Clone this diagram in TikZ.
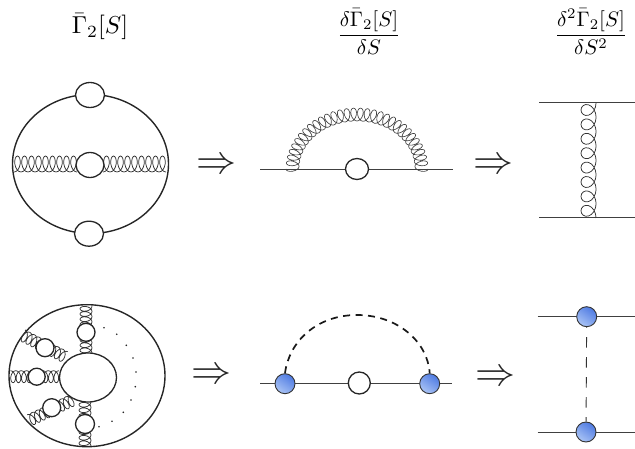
\documentclass[tikz,border=0pt]{standalone}
\usepackage{amsmath}
\usepackage{tikz}
\usetikzlibrary{positioning,shapes.geometric}
\definecolor{blobblue}{RGB}{78,122,226}
\definecolor{blobpale}{RGB}{170,196,245}
\tikzset{
    prop/.style={draw=black!85, line width=1.4pt},
    thinprop/.style={draw=black!75, line width=1.1pt},
    blob/.style={ellipse, draw=black!85, line width=1.3pt, fill=white, inner sep=0pt},
    vertex/.style={ellipse, draw=black!80, line width=0.9pt, inner sep=0pt, minimum width=20pt, minimum height=20pt,
        left color=blobblue, right color=blobpale, shading angle=-35},
    impl/.style={scale=4, inner sep=0pt, text=black!85},
    titlelab/.style={inner sep=0pt},
    % gluon = {loops}{pitch}{half height}{loop width}
    pics/gluon/.style n args={4}{code={
        \draw[black!80, line width=0.75pt] plot[smooth, domain=0:360*#1, samples=#1*16+1]
            ({#2*(\x/360)+#4*sin(\x)}, {#3*cos(\x)});
    }}
}

\begin{document}
\begin{tikzpicture}[x=1pt, y=-1pt]
    \useasboundingbox (0,0) rectangle (635,449);

    % =========================================================================
    % TITLES
    % =========================================================================
    \node[titlelab, scale=2.45] (titlea) at (100, 27) {$\bar{\Gamma}_2[S]$};
    \node[titlelab, scale=2.1] (titleb) at (369, 32) {$\dfrac{\delta\bar{\Gamma}_2[S]}{\delta S}$};
    \node[titlelab, scale=2.1] (titlec) at (591, 32) {$\dfrac{\delta^2\bar{\Gamma}_2[S]}{\delta S^2}$};

    % =========================================================================
    % ROW 1, LEFT: Closed diagram
    % =========================================================================
    \node[ellipse, prop, inner sep=0pt, minimum width=156pt, minimum height=139pt] (ringa) at (90.5, 164) {};
    \coordinate (gla) at (14, 164);
    \coordinate (glc) at (103, 164);
    \pic at (gla) {gluon={9}{7}{8}{4.4}};
    \pic at (glc) {gluon={9}{7}{8}{4.4}};
    \node[blob, minimum width=29pt, minimum height=25pt] (blobtop) at (90, 95) {};
    \node[blob, minimum width=28pt, minimum height=25pt] (blobmid) at (90, 165) {};
    \node[blob, minimum width=29pt, minimum height=25pt] (blobbot) at (89, 233.7) {};

    % =========================================================================
    % ROW 1, MIDDLE: Self energy
    % =========================================================================
    \coordinate (sea) at (260, 169.7);
    \coordinate (seb) at (453, 169.7);
    \draw[thinprop] (sea) -- (seb);
    % Gluon bent around a half ellipse
    \draw[black!75, line width=0.65pt] plot[smooth, domain=0:11160, samples=497]
        ({357+(71-6.5*(1-cos(\x)))*cos(180-\x/62+3.8*sin(\x))},
         {169-(61-6.5*(1-cos(\x)))*sin(180-\x/62+3.8*sin(\x))});
    \node[blob, minimum width=23pt, minimum height=21pt] (blobse) at (357, 169) {};

    % =========================================================================
    % ROW 1, RIGHT: Exchange
    % =========================================================================
    \coordinate (xa) at (539, 102.7);
    \coordinate (xb) at (635, 102.7);
    \coordinate (xc) at (539, 217.6);
    \coordinate (xd) at (635, 217.6);
    \coordinate (xdn) at (588.5, 218);
    \draw[thinprop] (xa) -- (xb);
    \draw[thinprop] (xc) -- (xd);
    \pic[rotate=90] at (xdn) {gluon={8}{14.4}{7.5}{8.8}};

    % =========================================================================
    % ROW 2, LEFT: Ring diagram
    % =========================================================================
    \node[ellipse, prop, inner sep=0pt, minimum width=156pt, minimum height=142pt] (ringb) at (87, 375.7) {};

    % Spokes
    \foreach \name/\px/\py/\ang/\n/\pitch in {sa/86/353/90/9/5.2, sb/65/357/153/9/5.3, sc/59/376.7/180/9/5.4, sd/73/400/205/9/5.3, se/85/446/90/8/5.5} {
        \coordinate (\name) at (\px, \py);
        \pic[rotate=\ang] at (\name) {gluon={\n}{\pitch}{6}{3.6}};
    }
    \node[blob, minimum width=57pt, minimum height=49pt] (core) at (88, 377.5) {};
    \foreach \name/\px/\py/\r in {ba/86/332.3/18, bb/45/347.7/18, bc/36.7/376.7/17, bd/51.7/407.7/18, be/85/424/19} {
        \node[blob, minimum width=\r pt, minimum height=\r pt] (\name) at (\px, \py) {};
    }

    % Dots
    \foreach \px/\py/\k in {104/327.7/1, 116.7/334.3/2, 126.3/345.3/3, 133/358/4, 136/372/5, 135.3/386.7/6, 131/400/7, 123.3/412.3/8, 112/421.3/9, 99/426.7/10} {
        \node[circle, fill=black!85, inner sep=0pt, minimum size=1.8pt] (dot\k) at (\px, \py) {};
    }

    % =========================================================================
    % ROW 2, MIDDLE
    % =========================================================================
    \coordinate (dsa) at (260, 383.7);
    \coordinate (dsb) at (451.7, 383.7);
    \draw[thinprop] (dsa) -- (dsb);
    \node[vertex] (va) at (285, 383.7) {};
    \node[vertex] (vb) at (429.7, 383.7) {};
    \node[blob, minimum width=22pt, minimum height=22pt] (blobds) at (359.3, 383) {};
    \coordinate (dstop) at (357, 315);
    \draw[line width=1.7pt, black!90, dash pattern=on 7pt off 5.5pt] (va.north) .. controls +(4,-32) and +(-40,0) .. (dstop) .. controls +(40,0) and +(-2,-32) .. (vb.north);

    % =========================================================================
    % ROW 2, RIGHT
    % =========================================================================
    \coordinate (ya) at (537.7, 316.7);
    \coordinate (yb) at (635, 316.7);
    \coordinate (yc) at (537.7, 432.7);
    \coordinate (yd) at (635, 432.7);
    \draw[thinprop] (ya) -- (yb);
    \draw[thinprop] (yc) -- (yd);
    \node[vertex] (vc) at (586.7, 316.7) {};
    \node[vertex] (vd) at (586, 432) {};
    \draw[black!80, line width=0.9pt, dash pattern=on 10.5pt off 9.5pt, dash phase=-10pt] (vc) -- (vd);

    % =========================================================================
    % ARROWS
    % =========================================================================
    \foreach \name/\px/\py in {ia/216/166, ib/493/166, ic/211/376, id/495.5/378} {
        \node[impl] (\name) at (\px, \py) {$\Rightarrow$};
    }

\end{tikzpicture}
\end{document}
